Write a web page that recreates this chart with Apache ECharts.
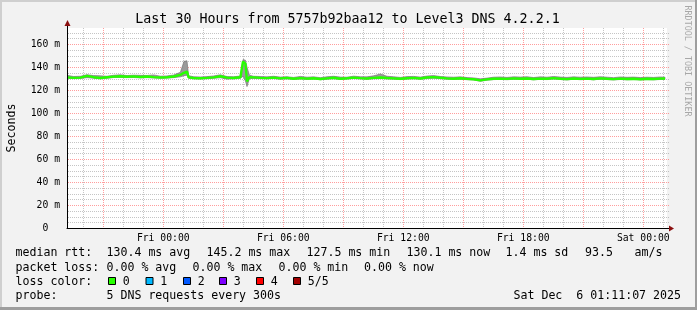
<!DOCTYPE html>
<html><head><meta charset="utf-8">
<script src="https://cdn.jsdelivr.net/npm/echarts@6/dist/echarts.min.js"></script>
<style>html,body{margin:0;padding:0;background:#F2F2F2}#c{width:697px;height:310px}</style>
</head><body><div id="c"></div><script>
// ---- data (hours since graph start, Thu 19:11:07) ----
const hours = [0,0.33,0.67,1,1.33,1.67,2,2.33,2.67,3,3.33,3.67,4,4.33,4.67,5,5.33,5.67,5.85,6,6.08,6.33,6.67,7,7.33,7.67,8,8.33,8.67,8.8,8.92,9,9.12,9.33,9.67,10,10.33,10.67,11,11.33,11.67,12,12.33,12.67,13,13.33,13.67,14,14.33,14.67,15,15.33,15.67,16,16.33,16.67,17,17.33,17.67,18,18.33,18.67,19,19.33,19.67,20,20.33,20.67,21,21.33,21.67,22,22.33,22.67,23,23.33,23.67,24,24.33,24.67,25,25.33,25.67,26,26.33,26.67,27,27.33,27.67,28,28.33,28.67,29,29.33,29.67,29.9];
const median = [131.0,130.6,130.8,132.3,131.2,130.5,131.1,131.7,132.0,131.6,131.9,131.4,131.8,131.3,130.9,131.2,131.8,133.2,135.0,136.0,131.0,130.5,130.3,130.6,131.0,132.0,130.8,130.5,131.1,144.8,143.0,127.5,131.2,131.0,130.6,130.4,130.8,130.2,130.6,129.8,130.4,130.0,130.3,129.6,130.2,130.7,129.9,130.3,130.8,130.4,130.1,130.6,130.9,130.5,130.2,129.8,130.3,130.6,130.1,130.9,131.3,130.7,130.2,129.9,130.3,129.7,129.4,128.4,129.3,129.8,130.0,129.7,130.2,129.9,130.1,129.6,130.0,129.8,130.4,129.9,129.5,130.1,129.7,130.0,129.6,130.2,129.8,129.5,130.0,129.6,129.9,129.4,129.8,129.6,130.0,130.1];
const smokeLo = [130.2,130.0,130.1,130.8,130.3,129.8,130.2,130.9,131.0,130.8,130.9,130.6,130.8,130.5,130.3,130.4,130.8,131.5,132.5,133.0,130.2,129.8,129.6,129.9,130.2,130.7,129.5,129.8,130.2,132.0,128.0,123.0,130.0,130.1,129.9,129.8,130.0,129.4,129.8,129.2,129.7,129.3,129.6,129.0,129.5,129.9,129.2,129.6,130.0,129.7,129.4,129.8,130.0,129.7,129.5,129.1,129.6,129.8,129.4,130.0,130.3,129.9,129.5,129.2,129.5,129.0,128.8,127.6,128.6,129.1,129.3,129.0,129.4,129.2,129.4,128.9,129.3,129.1,129.6,129.2,128.8,129.4,129.0,129.3,128.9,129.5,129.1,128.8,129.2,128.9,129.2,128.8,129.1,128.9,129.2,129.3];
const smokeHi = [132.8,131.8,132.0,133.4,132.6,132.4,132.0,132.9,133.3,132.6,133.0,132.8,132.7,133.2,132.1,132.3,133.1,135.5,145.0,145.5,132.5,131.6,131.4,131.7,132.3,133.3,131.8,131.6,132.2,146.5,146.0,140.0,133.0,132.0,131.8,131.5,132.0,131.3,131.6,131.0,131.9,131.2,131.5,130.8,131.6,132.0,131.3,131.2,132.1,131.6,131.5,132.4,134.0,132.0,131.6,131.0,131.7,131.9,131.3,132.2,132.6,131.8,131.4,131.2,131.5,130.9,130.6,129.8,130.4,131.2,131.4,131.0,131.5,131.3,131.6,130.9,131.5,131.2,131.8,131.3,131.0,131.5,131.2,131.4,131.1,131.6,131.2,130.8,131.4,131.1,131.3,130.9,131.2,131.0,131.4,131.2];

// ---- axes / ticks ----
const START = -4.8147;          // graph start relative to Fri 00:00 (hours)
const X_MIN = -4.8147, X_MAX = 25.1853;
const Y_MAX = 174;
const xTickValues = [0, 6, 12, 18, 24];
const xTickLabels = ['Fri 00:00','Fri 06:00','Fri 12:00','Fri 18:00','Sat 00:00'];
const yTicks = [0,20,40,60,80,100,120,140,160];
const yTickLabels = ['0  ','20 m','40 m','60 m','80 m','100 m','120 m','140 m','160 m'];
const majorX = [-3,0,3,6,9,12,15,18,21,24];
const minorX = [-4,-2,-1,1,2,4,5,7,8,10,11,13,14,16,17,19,20,22,23,25];
const majorY = [20,40,60,80,100,120,140,160];
const minorY = [5,10,15,25,30,35,45,50,55,65,70,75,85,90,95,105,110,115,125,130,135,145,150,155,165,170];

// ---- text ----
const titleText = 'Last 30 Hours from 5757b92baa12 to Level3 DNS 4.2.2.1';
const rttLabel = 'median rtt:';
const rttStats = ['130.4 ms avg','145.2 ms max','127.5 ms min','130.1 ms now','1.4 ms sd','93.5','am/s'];
const lossLabel = 'packet loss:';
const lossStats = ['0.00 % avg','0.00 % max','0.00 % min','0.00 % now'];
const colorLabel = 'loss color:';
const lossNames = ['0','1','2','3','4','5/5'];
const lossColors = ['#26ff00','#00b8ff','#0059ff','#7e00ff','#ff0000','#a10000'];
const probeLabel = 'probe:';
const probeText = '5 DNS requests every 300s';
const dateText = 'Sat Dec  6 01:11:07 2025';
const watermark = 'RRDTOOL / TOBI OETIKER';

const MONO = '"DejaVu Sans Mono", monospace';
const chart = echarts.init(document.getElementById('c'));

function vLine(color){
  return function(params, api){
    const p = api.coord([api.value(0), 0]);
    const cs = params.coordSys;
    const x = Math.round(p[0]) + 0.5;
    return {type:'line', shape:{x1:x, y1:cs.y, x2:x, y2:cs.y+cs.height-1},
      style:{stroke:color, lineWidth:1, lineDash:[1,1]}};
  };
}
function hLine(color){
  return function(params, api){
    const p = api.coord([X_MIN, api.value(1)]);
    const cs = params.coordSys;
    const y = Math.round(p[1]) + 0.5;
    return {type:'line', shape:{x1:cs.x+1, y1:y, x2:cs.x+cs.width+2, y2:y},
      style:{stroke:color, lineWidth:1, lineDash:[1,1]}};
  };
}
const GRAY = 'rgba(150,150,150,0.55)';
const RED = 'rgba(255,60,60,0.5)';

const lineData = hours.map((h,i)=>[h+START, median[i]]);

const textStyleBase = {font: '11.6px ' + MONO, fill:'#000', verticalAlign:'middle'};
function txt(x, y, s, extra){
  return {type:'text', x, y, silent:true, z:100, style:Object.assign({text:s}, textStyleBase, extra||{})};
}

const rows = [253.2, 268.2, 281.8, 295.8];
const rttX = [106.5,206.5,306.5,406.5,505.5,585,634.5];
const lossX = [106.5,192.5,278.5,364];
const boxX = [108,145.5,183,219,256,293];

const graphics = [];
graphics.push({type:'rect', shape:{x:0,y:0,width:697,height:2}, style:{fill:'#CFCFCF'}, silent:true});
graphics.push({type:'rect', shape:{x:0,y:0,width:2,height:310}, style:{fill:'#CFCFCF'}, silent:true});
graphics.push({type:'rect', shape:{x:695,y:0,width:2,height:310}, style:{fill:'#9E9E9E'}, silent:true});
graphics.push({type:'rect', shape:{x:0,y:307,width:697,height:3}, style:{fill:'#9E9E9E'}, silent:true});
graphics.push(txt(347.5, 20, titleText, {font:'13.3px ' + MONO, align:'center'}));
graphics.push(txt(15.5, rows[0], rttLabel));
rttStats.forEach((s,i)=>graphics.push(txt(rttX[i], rows[0], s)));
graphics.push(txt(15.5, rows[1], lossLabel));
lossStats.forEach((s,i)=>graphics.push(txt(lossX[i], rows[1], s)));
graphics.push(txt(15.5, rows[2], colorLabel));
lossNames.forEach((s,i)=>{
  graphics.push({type:'rect', shape:{x:boxX[i]+0.5, y:277.5, width:7, height:7},
    style:{fill:lossColors[i], stroke:'#000', lineWidth:1}, silent:true, z:100});
  graphics.push(txt(boxX[i]+14.8, rows[2], s));
});
graphics.push(txt(15.5, rows[3], probeLabel));
graphics.push(txt(106.5, rows[3], probeText));
graphics.push(txt(681, rows[3], dateText, {align:'right'}));
graphics.push({type:'text', x:687, y:61, rotation:-Math.PI/2, silent:true,
  style:{text:watermark, font:'8.4px ' + MONO, fill:'#a8a8a8', align:'center', verticalAlign:'middle'}});

chart.setOption({
  animation:false,
  backgroundColor:'#F2F2F2',
  grid:{left:67, right:30, top:28, bottom:82, show:true, backgroundColor:'#ffffff', borderWidth:0,
    containLabel:false, outerBoundsMode:'none'},
  xAxis:{type:'value', min:X_MIN, max:X_MAX, z:10,
    axisLine:{show:true, onZero:false, lineStyle:{color:'#000', width:1}},
    axisTick:{show:false},
    splitLine:{show:false},
    axisLabel:{customValues:xTickValues, margin:5, color:'#000', fontFamily:'DejaVu Sans Mono', fontSize:9.75,
      formatter:(v)=>{ const i = xTickValues.findIndex(t=>Math.abs(t-v)<1e-6); return i<0?'':xTickLabels[i]; }}
  },
  yAxis:{type:'value', min:0, max:Y_MAX, interval:20, z:10,
    name:'Seconds', nameLocation:'middle', nameGap:49,
    nameTextStyle:{fontFamily:'DejaVu Sans Mono', fontSize:11.6, color:'#000'},
    axisLine:{show:true, onZero:false, lineStyle:{color:'#000', width:1}},
    axisTick:{show:false},
    splitLine:{show:false},
    axisLabel:{customValues:yTicks, margin:7, color:'#000', fontFamily:'DejaVu Sans Mono', fontSize:9.75,
      formatter:(v)=>{ const i = yTicks.indexOf(v); return i<0?'':yTickLabels[i]; }}
  },
  series:[
    {type:'custom', silent:true, z:1, renderItem:vLine(GRAY), data:minorX.map(v=>[v,0])},
    {type:'custom', silent:true, z:1, renderItem:hLine(GRAY), data:minorY.map(v=>[X_MIN,v])},
    {type:'custom', silent:true, z:1, renderItem:vLine(RED), data:majorX.map(v=>[v,0])},
    {type:'custom', silent:true, z:1, renderItem:hLine(RED), data:majorY.map(v=>[X_MIN,v])},
    {type:'custom', silent:true, z:2, clip:true,
      renderItem:function(params, api){
        const pts = [];
        for (let i=0;i<hours.length;i++) pts.push(api.coord([hours[i]+START, smokeHi[i]]));
        for (let i=hours.length-1;i>=0;i--) pts.push(api.coord([hours[i]+START, smokeLo[i]]));
        return {type:'polygon', shape:{points:pts}, style:{fill:'#9a9a9a', stroke:'#6a6a6a', lineWidth:0.6}};
      },
      data:[[hours[0]+START, median[0]]]},
    {type:'line', z:3, data:lineData, showSymbol:false, symbol:'none', silent:true,
      lineStyle:{color:'#26ff00', width:2.4}}
  ],
  graphic:graphics
});

// axis arrows
const p0 = chart.convertToPixel({gridIndex:0}, [X_MIN, 0]);
const p1 = chart.convertToPixel({gridIndex:0}, [X_MAX, Y_MAX]);
const ax = Math.round(p0[0]) + 0.5, ay = Math.round(p0[1]) + 0.5;
const plotTop = Math.round(p1[1]), plotRight = Math.round(p1[0]);
chart.setOption({graphic: graphics.concat([
  {type:'line', shape:{x1:ax, y1:plotTop, x2:ax, y2:plotTop-3}, style:{stroke:'#000', lineWidth:1}, silent:true, z:100},
  {type:'polygon', shape:{points:[[ax-3, plotTop-2],[ax+3, plotTop-2],[ax, plotTop-8]]}, style:{fill:'#8b1010'}, silent:true, z:100},
  {type:'line', shape:{x1:plotRight, y1:ay, x2:plotRight+3, y2:ay}, style:{stroke:'#000', lineWidth:1}, silent:true, z:100},
  {type:'polygon', shape:{points:[[plotRight+2, ay-3],[plotRight+2, ay+3],[plotRight+7, ay]]}, style:{fill:'#8b1010'}, silent:true, z:100}
])});
</script></body></html>
